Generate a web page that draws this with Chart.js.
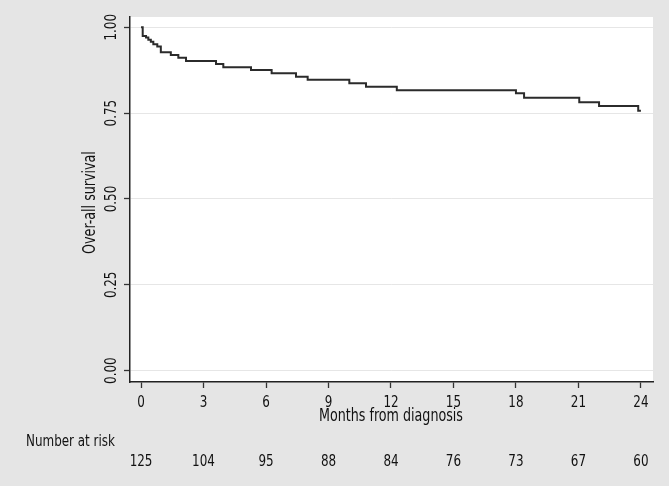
<!DOCTYPE html>
<html><head><meta charset="utf-8">
<script src="https://cdn.jsdelivr.net/npm/chart.js@4/dist/chart.umd.min.js"></script>
<style>html,body{margin:0;padding:0;background:#e5e5e5;overflow:hidden}#wrap{width:669px;height:486px;position:relative}</style>
</head><body><div id="wrap"><canvas id="c" width="669" height="486"></canvas></div>
<script>
const months   = [0, 0.08, 0.24, 0.35, 0.47, 0.59, 0.78, 0.95, 1.43, 1.79, 2.16, 3.6, 3.95, 5.28, 6.27, 7.44, 8.0, 10.0, 10.8, 12.28, 18.0, 18.39, 21.04, 21.99, 23.87, 24];
const survival = [1.0, 0.975, 0.970, 0.964, 0.958, 0.951, 0.944, 0.927, 0.919, 0.911, 0.902, 0.893, 0.884, 0.876, 0.866, 0.856, 0.847, 0.837, 0.827, 0.817, 0.808, 0.795, 0.782, 0.771, 0.757, 0.757];
const xTickValues = [0, 3, 6, 9, 12, 15, 18, 21, 24];
const xTickLabels = ['0', '3', '6', '9', '12', '15', '18', '21', '24'];
const yTickValues = [0, 0.25, 0.5, 0.75, 1];
const yTickLabels = ['0.00', '0.25', '0.50', '0.75', '1.00'];
const numberAtRisk = [125, 104, 95, 88, 84, 76, 73, 67, 60];
const xTitle = 'Months from diagnosis';
const yTitle = 'Over-all survival';
const riskTitle = 'Number at risk';

const FONT = "'DejaVu Sans Condensed', 'DejaVu Sans', sans-serif";
const TXT = '#111';
const SQ = 0.83; // horizontal squeeze of the narrow lettering

function drawText(ctx, text, x, y, size, align, rotated) {
  ctx.save();
  ctx.translate(x, y);
  if (rotated) ctx.rotate(-Math.PI / 2);
  ctx.scale(SQ, 1);
  ctx.font = size + 'px ' + FONT;
  ctx.fillStyle = TXT;
  ctx.textAlign = align;
  ctx.textBaseline = 'middle';
  ctx.fillText(text, 0, 0);
  ctx.restore();
}

const bgPlugin = {
  id: 'bg',
  beforeDraw(chart) {
    const {ctx, chartArea: a} = chart;
    ctx.save();
    ctx.fillStyle = '#e5e5e5';
    ctx.fillRect(0, 0, chart.width, chart.height);
    ctx.fillStyle = '#ffffff';
    ctx.fillRect(a.left, a.top, a.right - a.left, a.bottom - a.top);
    ctx.restore();
  }
};

const extraText = {
  id: 'extraText',
  afterDraw(chart) {
    const {ctx, chartArea: a} = chart;
    const xs = chart.scales.x, ys = chart.scales.y;
    yTickValues.forEach((v, i) => drawText(ctx, yTickLabels[i], 112, ys.getPixelForValue(v), 16, 'center', true));
    drawText(ctx, yTitle, 91, (a.top + a.bottom) / 2 + 3, 17, 'center', true);
    xTickValues.forEach((v, i) => drawText(ctx, xTickLabels[i], xs.getPixelForValue(v), 402.5, 16, 'center', false));
    drawText(ctx, xTitle, xs.getPixelForValue(12), 417, 17, 'center', false);
    drawText(ctx, riskTitle, 26, 441.5, 16, 'left', false);
    xTickValues.forEach((v, i) => drawText(ctx, String(numberAtRisk[i]), xs.getPixelForValue(v), 461.5, 16, 'center', false));
  }
};

new Chart(document.getElementById('c'), {
  type: 'line',
  data: {
    datasets: [{
      data: months.map((m, i) => ({x: m, y: survival[i]})),
      borderColor: '#2b2b2b',
      borderWidth: 2,
      pointRadius: 0,
      stepped: 'before',
      fill: false
    }]
  },
  options: {
    responsive: false,
    animation: false,
    devicePixelRatio: 1,
    layout: {padding: {left: 0, right: 16, top: 17, bottom: 59}},
    plugins: {legend: {display: false}, tooltip: {enabled: false}},
    scales: {
      x: {
        type: 'linear',
        min: -0.53,
        max: 24.58,
        afterBuildTicks(s) { s.ticks = xTickValues.map(v => ({value: v})); },
        afterFit(s) { s.height = 45; },
        grid: {drawOnChartArea: false, drawTicks: true, tickLength: 6, tickColor: '#333', tickWidth: 1.3},
        border: {display: true, color: '#222', width: 1.5},
        ticks: {display: false},
        title: {display: false}
      },
      y: {
        type: 'linear',
        min: -0.033,
        max: 1.03,
        afterBuildTicks(s) { s.ticks = yTickValues.map(v => ({value: v})); },
        afterFit(s) { s.width = 130; },
        grid: {color: '#e6e6e6', lineWidth: 1, drawTicks: true, tickLength: 6, tickColor: '#333', tickWidth: 1.3},
        border: {display: true, color: '#222', width: 1.5},
        ticks: {display: false},
        title: {display: false}
      }
    }
  },
  plugins: [bgPlugin, extraText]
});
</script>
</body></html>
